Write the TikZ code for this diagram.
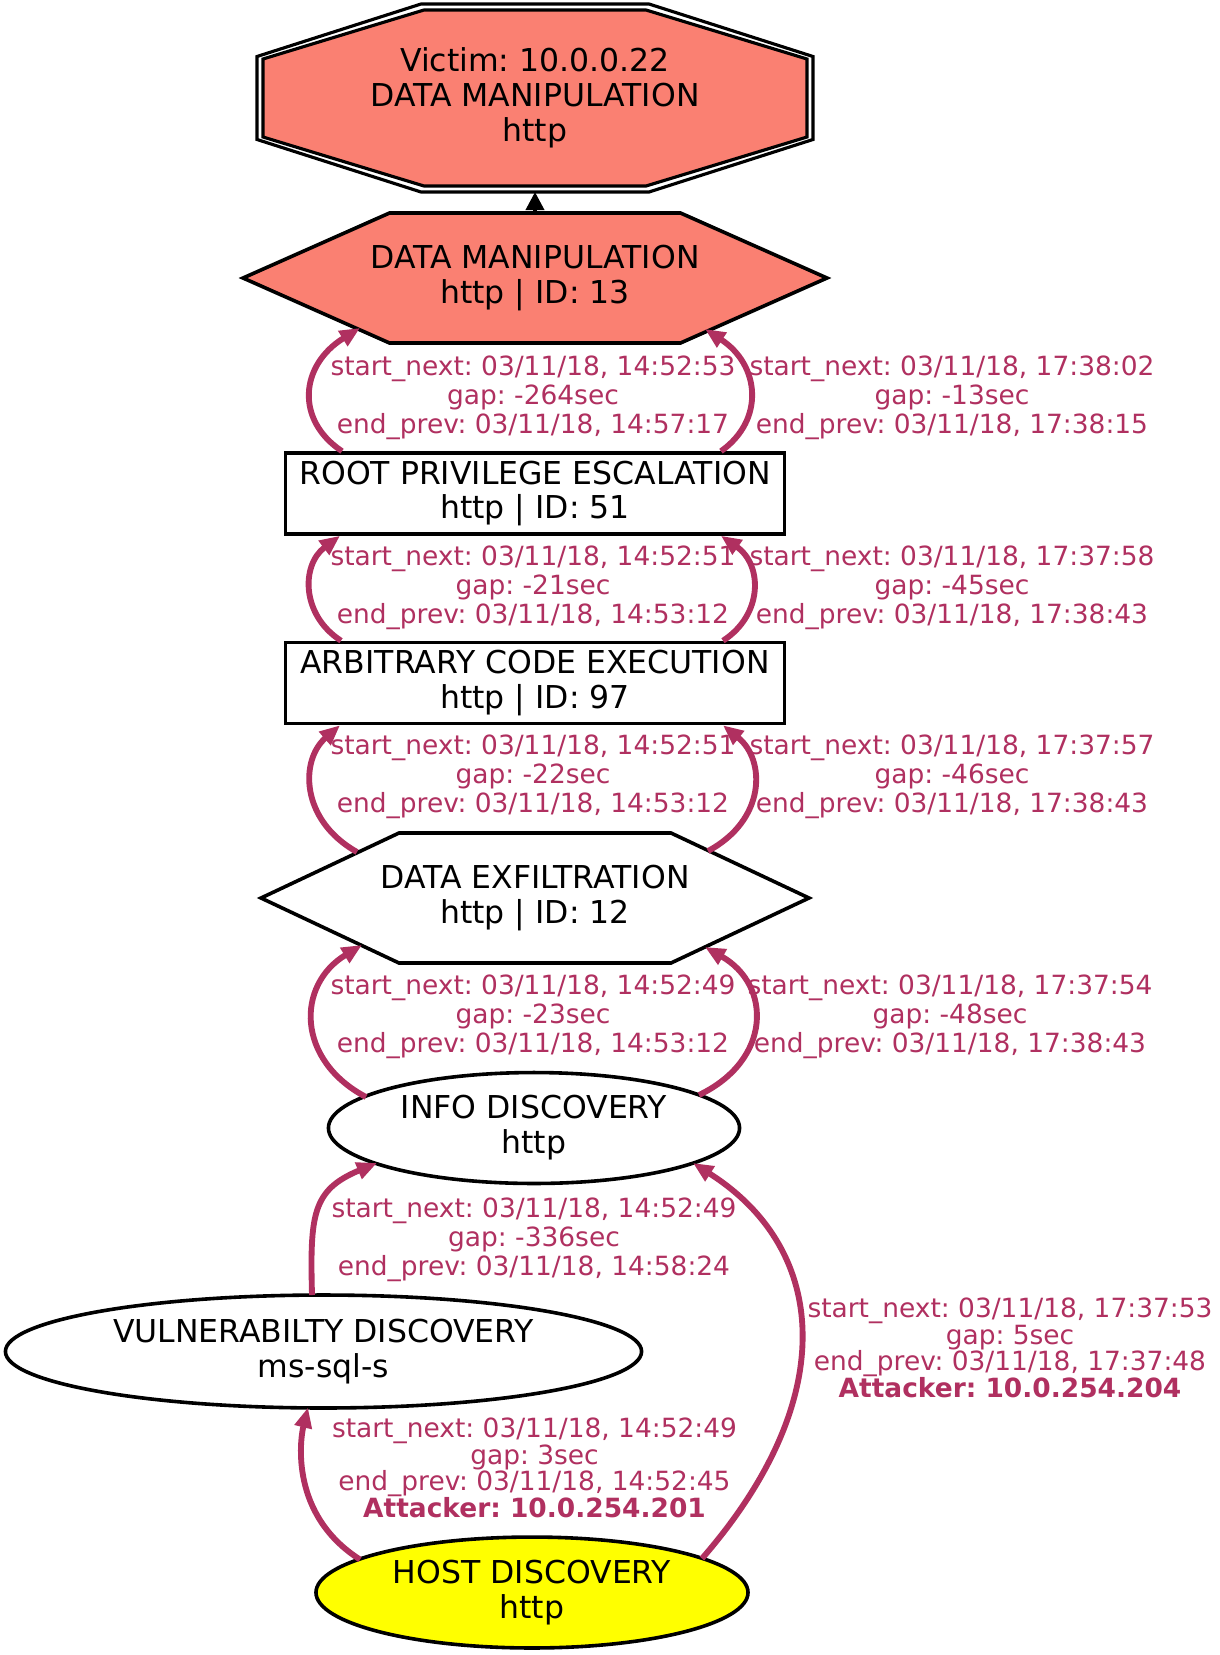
\documentclass[tikz,border=0pt]{standalone}
\usepackage{fontspec}
\setmainfont{DejaVu Sans}
\usetikzlibrary{shapes.geometric,arrows.meta,calc}
\definecolor{salmonc}{HTML}{FA8072}
\definecolor{maroonc}{HTML}{B03060}
\definecolor{yellowc}{HTML}{FFFF00}
\frenchspacing
\tikzset{
 ntext/.style={font=\fontsize{14pt}{15.5pt}\selectfont, align=center, inner sep=0pt},
 boxnode/.style={ntext, draw, line width=1.6pt, rectangle, minimum width=221.8pt, minimum height=36pt},
 ellnode/.style={ntext, draw, line width=1.6pt, ellipse},
 polyline/.style={draw, line width=1.6pt, line join=miter},
 edgec/.style={draw=maroonc, line width=2.6pt, -{Triangle[length=9pt,width=7.5pt]}},
 elabel/.style={text=maroonc, font=\fontsize{11.75pt}{12.9pt}\selectfont, align=center, inner sep=0pt},
 elabelb/.style={text=maroonc, font=\fontsize{11.75pt}{11.8pt}\selectfont, align=center, inner sep=0pt},
}
\begin{document}
\begin{tikzpicture}[x=0.4444pt, y=-0.4444pt]
\useasboundingbox (0,0) rectangle (1219,1655);
\fill[white] (0,0) rectangle (1219,1655);

% victim double octagon
\coordinate (vicc) at (535,98);
\begin{scope}[shift={(vicc)}]
\draw[polyline, line width=1.4pt] (-114,-94) -- (114,-94) -- (278,-41.5) -- (278,41.5) -- (114,94) -- (-114,94) -- (-278,41.5) -- (-278,-41.5) -- cycle;
\filldraw[polyline, fill=salmonc, line width=1.4pt] (-111,-88) -- (111,-88) -- (272,-39) -- (272,39) -- (111,88) -- (-111,88) -- (-272,39) -- (-272,-39) -- cycle;
\end{scope}
\node[ntext] (victim) at (vicc) {Victim: 10.0.0.22\\DATA MANIPULATION\\http};

% data manipulation hexagon
\coordinate (dmc) at (535,278);
\begin{scope}[shift={(dmc)}]
\filldraw[polyline, fill=salmonc] (-145.5,-65) -- (145.5,-65) -- (292,0) -- (145.5,65) -- (-145.5,65) -- (-292,0) -- cycle;
\end{scope}
\node[ntext] (dm13) at (dmc) {DATA MANIPULATION\\http | ID: 13};

% boxes
\node[boxnode] (root) at (535,493.5) {ROOT PRIVILEGE ESCALATION\\http | ID: 51};
\node[boxnode] (arb) at (535,683) {ARBITRARY CODE EXECUTION\\http | ID: 97};

% data exfiltration hexagon
\coordinate (exc) at (535,898);
\begin{scope}[shift={(exc)}]
\draw[polyline] (-136,-65) -- (136,-65) -- (274,0) -- (136,65) -- (-136,65) -- (-274,0) -- cycle;
\end{scope}
\node[ntext] (exfil) at (exc) {DATA EXFILTRATION\\http | ID: 12};

% ellipses
\node[ellnode, minimum width=182.7pt, minimum height=49.3pt] (info) at (534,1128) {INFO DISCOVERY\\http};
\node[ellnode, minimum width=282.7pt, minimum height=50.2pt] (vuln) at (323.5,1351.5) {VULNERABILTY DISCOVERY\\ms-sql-s};
\node[ellnode, fill=yellowc, minimum width=192pt, minimum height=49.3pt] (host) at (532,1592.5) {HOST DISCOVERY\\http};

% edges
\draw[black, line width=1.6pt, -{Triangle[length=8pt,width=8pt]}] ($(dm13)+(0,-65)$) -- ($(victim)+(0,94)$);

\draw[edgec] ($(root.north)+(-193,0)$) .. controls (295,420) and (300,365) .. ($(dm13)+(-175,50)$);
\draw[edgec] ($(root.north)+(186,0)$) .. controls (765,420) and (760,365) .. ($(dm13)+(170,51)$);

\draw[edgec] ($(arb.north)+(-194,0)$) .. controls (301,615) and (301,565) .. ($(root.south)+(-195,0)$);
\draw[edgec] ($(arb.north)+(188,0)$) .. controls (763,615) and (763,565) .. ($(root.south)+(186,0)$);

\draw[edgec] ($(exfil)+(-178,-46)$) .. controls (300,820) and (300,760) .. ($(arb.south)+(-195,0)$);
\draw[edgec] ($(exfil)+(173,-47)$) .. controls (766,820) and (766,760) .. ($(arb.south)+(188,0)$);

\draw[edgec] ($(info)+(-168,-31)$) .. controls (296,1060) and (296,985) .. ($(exfil)+(-173,47)$);
\draw[edgec] ($(info)+(165,-33)$) .. controls (772,1060) and (772,985) .. ($(exfil)+(170,49)$);

\draw[edgec] ($(vuln)+(-11.5,-56.5)$) .. controls (310,1215) and (312,1190) .. ($(info)+(-157,35)$);
\draw[edgec] ($(host)+(-172,-33)$) .. controls (290,1515) and (300,1440) .. ($(vuln)+(-15.5,56)$);
\draw[edgec] ($(host)+(170,-34)$) .. controls (840,1400) and (830,1250) .. ($(info)+(159,35)$);

% labels
\node[elabel] (l1a) at (533,398) {start\_next: 03/11/18, 14:52:53\\gap: -264sec\\end\_prev: 03/11/18, 14:57:17};
\node[elabel] (l1b) at (952,398) {start\_next: 03/11/18, 17:38:02\\gap: -13sec\\end\_prev: 03/11/18, 17:38:15};
\node[elabel] (l2a) at (533,587.5) {start\_next: 03/11/18, 14:52:51\\gap: -21sec\\end\_prev: 03/11/18, 14:53:12};
\node[elabel] (l2b) at (952,587.5) {start\_next: 03/11/18, 17:37:58\\gap: -45sec\\end\_prev: 03/11/18, 17:38:43};
\node[elabel] (l3a) at (533,777) {start\_next: 03/11/18, 14:52:51\\gap: -22sec\\end\_prev: 03/11/18, 14:53:12};
\node[elabel] (l3b) at (952,777) {start\_next: 03/11/18, 17:37:57\\gap: -46sec\\end\_prev: 03/11/18, 17:38:43};
\node[elabel] (l4a) at (533,1017) {start\_next: 03/11/18, 14:52:49\\gap: -23sec\\end\_prev: 03/11/18, 14:53:12};
\node[elabel] (l4b) at (950,1017) {start\_next: 03/11/18, 17:37:54\\gap: -48sec\\end\_prev: 03/11/18, 17:38:43};
\node[elabel] (l5) at (534,1240) {start\_next: 03/11/18, 14:52:49\\gap: -336sec\\end\_prev: 03/11/18, 14:58:24};
\node[elabelb] (l6) at (534.5,1468) {start\_next: 03/11/18, 14:52:49\\gap: 3sec\\end\_prev: 03/11/18, 14:52:45\\\textbf{Attacker: 10.0.254.201}};
\node[elabelb] (l7) at (1010,1348) {start\_next: 03/11/18, 17:37:53\\gap: 5sec\\end\_prev: 03/11/18, 17:37:48\\\textbf{Attacker: 10.0.254.204}};
\end{tikzpicture}
\end{document}
